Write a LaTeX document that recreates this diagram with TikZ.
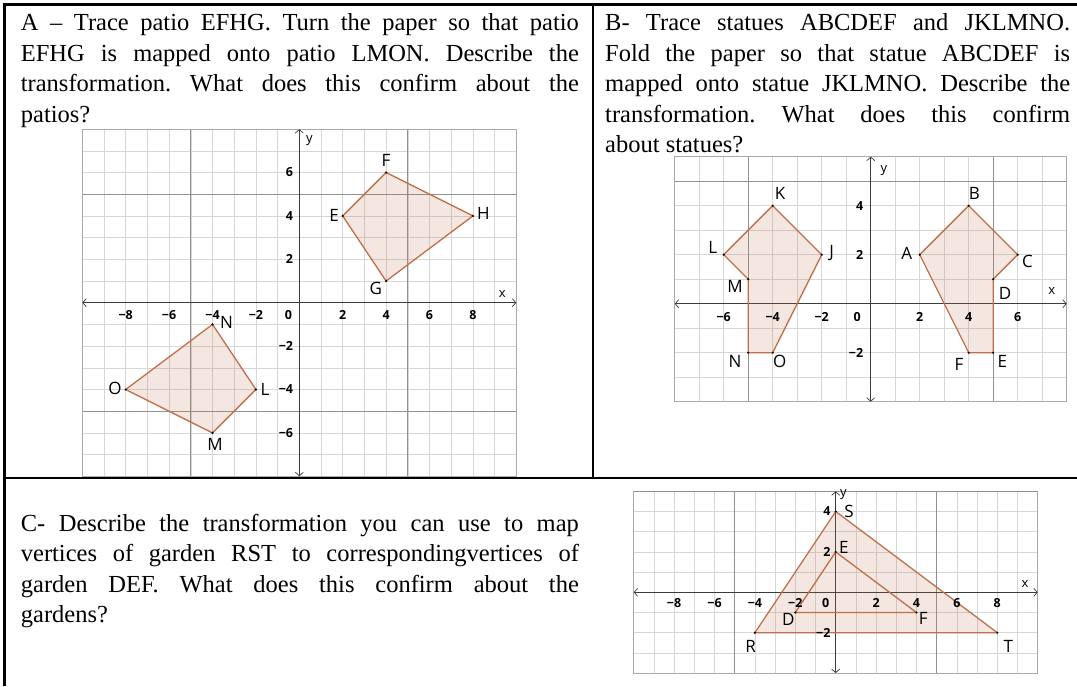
\documentclass[tikz,border=0pt]{standalone}
\usepackage{fontspec}
\setmainfont{Liberation Serif}
\newfontfamily\gfont{Open Sans}
\usetikzlibrary{arrows.meta}
\definecolor{edgec}{RGB}{192,112,72}
\definecolor{minorc}{RGB}{215,215,215}
\definecolor{majorc}{RGB}{145,145,145}
\definecolor{framec}{RGB}{170,170,170}
\definecolor{axisc}{RGB}{60,60,60}
\newcommand{\mygrid}[4]{%
  \foreach \i in {#1,...,#2} {\draw[minorgrid] (\i,#3) -- (\i,#4);}
  \foreach \j in {#3,...,#4} {\draw[minorgrid] (#1,\j) -- (#2,\j);}
}
\tikzset{
  border/.style={line width=2.6pt, draw=black},
  para/.style={anchor=base west, inner sep=0pt, font=\fontsize{24.5}{30}\selectfont\frenchspacing},
  minorgrid/.style={draw=minorc, line width=0.6pt},
  majorgrid/.style={draw=majorc, line width=0.8pt},
  gframe/.style={draw=framec, line width=0.9pt},
  axisline/.style={draw=axisc, line width=0.7pt, {Straight Barb[length=3.5pt,width=8pt]}-{Straight Barb[length=3.5pt,width=8pt]}},
  ticklab/.style={font=\gfont\bfseries\fontsize{12.5}{12.5}\selectfont, inner sep=0pt},
  axlab/.style={font=\gfont\fontsize{13}{13}\selectfont, inner sep=0pt},
  vlabel/.style={font=\gfont\fontsize{17}{17}\selectfont, inner sep=0pt},
  polyfill/.style={fill=edgec, fill opacity=0.17},
  poly/.style={draw=edgec, line width=1.3pt, line join=round},
  vdot/.style={circle, fill=black, inner sep=0pt, minimum size=2.4pt},
}
\begin{document}
\begin{tikzpicture}[x=1pt,y=-1pt]
\useasboundingbox (0,0) rectangle (1077,686);
\fill[white] (0,0) rectangle (1077,686);

% ---------- texts ----------
\node[para] (a1) at (20.7,30.5) {\makebox[558pt][s]{A – Trace patio EFHG. Turn the paper so that patio}};
\node[para] (a2) at (20.7,61) {\makebox[558pt][s]{EFHG is mapped onto patio LMON. Describe the}};
\node[para] (a3) at (20.7,91.5) {\makebox[558pt][s]{transformation. What does this confirm about the}};
\node[para] (a4) at (20.7,122) {patios?};

\node[para] (b1) at (605,30.5) {\makebox[465pt][s]{B- Trace statues ABCDEF and JKLMNO.}};
\node[para] (b2) at (605,61) {\makebox[465pt][s]{Fold the paper so that statue ABCDEF is}};
\node[para] (b3) at (605,91.5) {\makebox[465pt][s]{mapped onto statue JKLMNO. Describe the}};
\node[para] (b4) at (605,122) {\makebox[465pt][s]{transformation. What does this confirm}};
\node[para] (b5) at (605,152.5) {about statues?};

\node[para] (c1) at (20.7,531.5) {\makebox[558pt][s]{C- Describe the transformation you can use to map}};
\node[para] (c2) at (20.7,561.8) {\makebox[558pt][s]{vertices of garden RST to correspondingvertices of}};
\node[para] (c3) at (20.7,592) {\makebox[558pt][s]{garden DEF. What does this confirm about the}};
\node[para] (c4) at (20.7,622.3) {gardens?};

% ---------- graph A ----------
\begin{scope}[shift={(299.3,302.7)}, x=21.7pt, y=21.7pt]
  \coordinate (aE) at (2,4);
  \coordinate (aF) at (4,6);
  \coordinate (aH) at (8,4);
  \coordinate (aG) at (4,1);
  \coordinate (aL) at (-2,-4);
  \coordinate (aM) at (-4,-6);
  \coordinate (aO) at (-8,-4);
  \coordinate (aN) at (-4,-1);
  \mygrid{-10}{10}{-8}{8}
  \foreach \v in {-5,5} {\draw[majorgrid] (\v,-8) -- (\v,8); \draw[majorgrid] (-10,\v) -- (10,\v);}
  \draw[gframe] (-10,-8) rectangle (10,8);
  \draw[axisline] (-10,0) -- (10,0);
  \draw[axisline] (0,-8) -- (0,8);
  \fill[polyfill] (aE) -- (aF) -- (aH) -- (aG) -- cycle;
  \fill[polyfill] (aL) -- (aM) -- (aO) -- (aN) -- cycle;
  \draw[poly] (aE) -- (aF) -- (aH) -- (aG) -- cycle;
  \draw[poly] (aL) -- (aM) -- (aO) -- (aN) -- cycle;
  \foreach \p in {aE,aF,aH,aG,aL,aM,aO,aN} {\node[vdot] at (\p) {};}
  \foreach \k/\t in {-8/−8,-6/−6,-4/−4,-2/−2,2/2,4/4,6/6,8/8} {\node[ticklab] at (\k,-0.55) {\t};}
  \node[ticklab] (a0) at (-0.5,-0.55) {0};
  \foreach \k/\t in {6/6,4/4,2/2,-2/−2,-4/−4,-6/−6} {\node[ticklab, anchor=east] at (-0.28,\k) {\t};}
  \node[axlab] (ax) at (9.35,0.42) {x};
  \node[axlab] (ay) at (0.46,7.45) {y};
  \node[vlabel] (aFl) at (4.0,6.57) {F};
  \node[vlabel] (aEl) at (1.6,4.0) {E};
  \node[vlabel] (aHl) at (8.48,4.12) {H};
  \node[vlabel] (aGl) at (3.53,0.66) {G};
  \node[vlabel] (aNl) at (-3.35,-0.9) {N};
  \node[vlabel] (aOl) at (-8.49,-3.95) {O};
  \node[vlabel] (aLl) at (-1.58,-3.98) {L};
  \node[vlabel] (aMl) at (-3.88,-6.51) {M};
\end{scope}

% ---------- graph B ----------
\begin{scope}[shift={(870.7,303.7)}, x=24.5pt, y=24.5pt]
  \coordinate (bA) at (2,2);
  \coordinate (bB) at (4,4);
  \coordinate (bC) at (6,2);
  \coordinate (bD) at (5,1);
  \coordinate (bE) at (5,-2);
  \coordinate (bF) at (4,-2);
  \coordinate (bJ) at (-2,2);
  \coordinate (bK) at (-4,4);
  \coordinate (bL) at (-6,2);
  \coordinate (bM) at (-5,1);
  \coordinate (bN) at (-5,-2);
  \coordinate (bO) at (-4,-2);
  \mygrid{-8}{8}{-4}{6}
  \foreach \v in {-5,5} {\draw[majorgrid] (\v,-4) -- (\v,6);}
  \draw[majorgrid] (-8,5) -- (8,5);
  \draw[gframe] (-8,-4) rectangle (8,6);
  \draw[axisline] (-8,0) -- (8,0);
  \draw[axisline] (0,-4) -- (0,6);
  \fill[polyfill] (bA) -- (bB) -- (bC) -- (bD) -- (bE) -- (bF) -- cycle;
  \fill[polyfill] (bJ) -- (bK) -- (bL) -- (bM) -- (bN) -- (bO) -- cycle;
  \draw[poly] (bA) -- (bB) -- (bC) -- (bD) -- (bE) -- (bF) -- cycle;
  \draw[poly] (bJ) -- (bK) -- (bL) -- (bM) -- (bN) -- (bO) -- cycle;
  \foreach \p in {bA,bB,bC,bD,bE,bF,bJ,bK,bL,bM,bN,bO} {\node[vdot] at (\p) {};}
  \foreach \k/\t in {-6/−6,-4/−4,-2/−2,2/2,4/4,6/6} {\node[ticklab] at (\k,-0.53) {\t};}
  \node[ticklab] (b0) at (-0.55,-0.53) {0};
  \foreach \k/\t in {4/4,2/2,-2/−2} {\node[ticklab, anchor=east] at (-0.3,\k) {\t};}
  \node[axlab] (bx) at (7.39,0.5) {x};
  \node[axlab] (by) at (0.54,5.45) {y};
  \node[vlabel] (bKl) at (-3.7,4.5) {K};
  \node[vlabel] (bLl) at (-6.45,2.3) {L};
  \node[vlabel] (bJl) at (-1.59,2.08) {J};
  \node[vlabel] (bMl) at (-5.54,0.69) {M};
  \node[vlabel] (bNl) at (-5.54,-2.37) {N};
  \node[vlabel] (bOl) at (-3.71,-2.34) {O};
  \node[vlabel] (bAl) at (1.47,2.06) {A};
  \node[vlabel] (bBl) at (4.23,4.5) {B};
  \node[vlabel] (bCl) at (6.4,1.71) {C};
  \node[vlabel] (bDl) at (5.48,0.42) {D};
  \node[vlabel] (bEl) at (5.37,-2.34) {E};
  \node[vlabel] (bFl) at (3.6,-2.46) {F};
\end{scope}

% ---------- graph C ----------
\begin{scope}[shift={(835.7,592.3)}, x=20.2pt, y=20.2pt]
  \coordinate (cR) at (-4,-2);
  \coordinate (cS) at (0,4);
  \coordinate (cT) at (8,-2);
  \coordinate (cD) at (-2,-1);
  \coordinate (cE) at (0,2);
  \coordinate (cF) at (4,-1);
  \mygrid{-10}{10}{-4}{5}
  \foreach \v in {-5,5} {\draw[majorgrid] (\v,-4) -- (\v,5);}
  \draw[gframe] (-10,-4) rectangle (10,5);
  \draw[majorgrid, line width=1.6pt] (-10,5) -- (10,5);
  \draw[axisline] (-10,0) -- (10,0);
  \draw[axisline] (0,-4) -- (0,5);
  \fill[polyfill] (cR) -- (cS) -- (cT) -- cycle;
  \draw[poly] (cR) -- (cS) -- (cT) -- cycle;
  \draw[poly] (cD) -- (cE) -- (cF) -- cycle;
  \foreach \p in {cR,cS,cT,cD,cE,cF} {\node[vdot] at (\p) {};}
  \foreach \k/\t in {-8/−8,-6/−6,-4/−4,-2/−2,2/2,4/4,6/6,8/8} {\node[ticklab] at (\k,-0.55) {\t};}
  \node[ticklab] (c0) at (-0.5,-0.55) {0};
  \foreach \k/\t in {4/4,2/2,-2/−2} {\node[ticklab, anchor=east] at (-0.25,\k) {\t};}
  \node[axlab] (cx) at (9.37,0.42) {x};
  \node[axlab] (cy) at (0.38,4.82) {y};
  \node[vlabel] (cSl) at (0.66,3.99) {S};
  \node[vlabel] (cEl) at (0.4,2.23) {E};
  \node[vlabel] (cDl) at (-2.35,-1.34) {D};
  \node[vlabel] (cFl) at (4.34,-1.29) {F};
  \node[vlabel] (cRl) at (-4.21,-2.69) {R};
  \node[vlabel] (cTl) at (8.55,-2.69) {T};
\end{scope}

% ---------- table rules ----------
\draw[border] (4.7,686) -- (4.7,4.5) -- (1077,4.5);
\draw[border] (593,4.5) -- (593,478);
\draw[border] (4.7,478) -- (1077,478);
\end{tikzpicture}
\end{document}
